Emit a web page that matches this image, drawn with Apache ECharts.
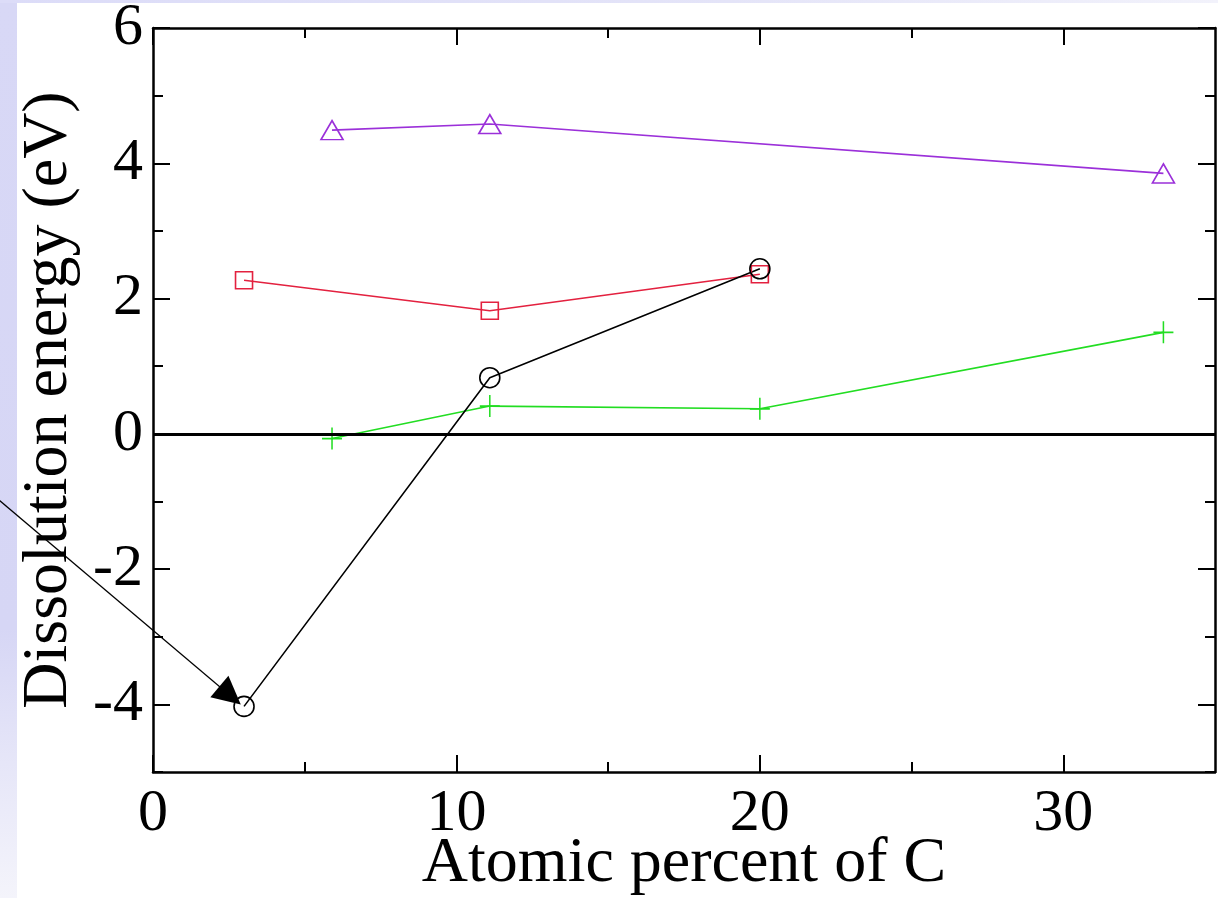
<!DOCTYPE html>
<html>
<head>
<meta charset="utf-8">
<script src="https://cdn.jsdelivr.net/npm/echarts@6/dist/echarts.min.js"></script>
<style>
  html, body { margin: 0; padding: 0; background: #fff; }
  #wrap { position: relative; width: 1218px; height: 898px; background: #fff; }
  #strip { position: absolute; left: 0; top: 0; width: 17px; height: 898px;
    background: linear-gradient(to bottom, #d8d8f6 0%, #d6d6f5 70%, #e6e6f8 85%, #f4f4fb 100%); }
  #topband { position: absolute; left: 0; top: 0; width: 1218px; height: 3px;
    background: linear-gradient(to right, #dcdcf8 0%, #e4e4f8 60%, #f2f2fb 100%); }
  #chart { position: absolute; left: 0; top: 0; width: 1218px; height: 898px; }
</style>
</head>
<body>
<div id="wrap">
  <div id="strip"></div>
  <div id="topband"></div>
  <div id="chart"></div>
</div>
<script>
  /* ===== data ===== */
  const xTicksMajor = [0, 10, 20, 30];
  const xTicksMinor = [5, 15, 25];
  const yTicksMajor = [-4, -2, 0, 2, 4, 6];
  const yTicksMinor = [-5, -3, -1, 1, 3, 5];

  const violetX = [5.9, 11.1, 33.3];
  const violetY = [4.49, 4.58, 3.85];

  const redX = [3.0, 11.1, 20.0];
  const redY = [2.27, 1.82, 2.36];

  const greenX = [5.9, 11.1, 20.0, 33.3];
  const greenY = [-0.07, 0.41, 0.37, 1.50];

  const blackX = [3.0, 11.1, 20.0];
  const blackY = [-4.03, 0.83, 2.44];

  // annotation arrow (starts outside the plot, points at the lowest circle)
  const arrowFrom = [-5.1, -0.97];
  const arrowTo = [2.54, -3.87];

  const FONT = "'Liberation Serif', 'DejaVu Serif', serif";
  const pairs = (xs, ys) => xs.map((x, i) => [x, ys[i]]);

  /* ===== axes: major / minor ticks on all four sides ===== */
  function xAxis(position, ticks, len, withLabel, withLine) {
    return {
      type: "value", position, min: 0, max: 35,
      axisLine: { show: withLine, onZero: false, lineStyle: { color: "#000", width: 2.5 } },
      axisTick: { show: true, inside: true, length: len, customValues: ticks,
        lineStyle: { color: "#000", width: 2 } },
      axisLabel: { show: withLabel, customValues: ticks, margin: 12,
        fontFamily: FONT, fontSize: 60, color: "#000" },
      splitLine: { show: false },
      name: withLabel ? "Atomic percent of C" : "",
      nameLocation: "middle", nameGap: 60, nameMoveOverlap: false,
      nameTextStyle: { fontFamily: FONT, fontSize: 64, color: "#000" },
    };
  }
  function yAxis(position, ticks, len, withLabel, withLine) {
    return {
      type: "value", position, min: -5, max: 6,
      axisLine: { show: withLine, onZero: false, lineStyle: { color: "#000", width: 2.5 } },
      axisTick: { show: true, inside: true, length: len, customValues: ticks,
        lineStyle: { color: "#000", width: 2 } },
      axisLabel: { show: withLabel, customValues: ticks, margin: 10,
        fontFamily: FONT, fontSize: 60, color: "#000" },
      splitLine: { show: false },
      name: withLabel ? "Dissolution energy (eV)" : "",
      nameLocation: "middle", nameGap: 72, nameRotate: 90,
      nameTextStyle: { fontFamily: FONT, fontSize: 64, color: "#000" },
    };
  }

  function dataSeries(name, xs, ys, color, symbol, size) {
    return {
      name, type: "line", data: pairs(xs, ys),
      xAxisIndex: 0, yAxisIndex: 0,
      symbol, symbolSize: size, showSymbol: true,
      lineStyle: { color, width: 1.6 },
      itemStyle: { color: "rgba(0,0,0,0)", borderColor: color, borderWidth: 1.6 },
      emphasis: { disabled: true },
      animation: false,
    };
  }

  const chart = echarts.init(document.getElementById("chart"), null, { renderer: "canvas" });

  chart.setOption({
    backgroundColor: "transparent",
    animation: false,
    grid: { left: 153, top: 28, right: 3, bottom: 126, containLabel: false, outerBoundsMode: "none" },
    xAxis: [
      xAxis("bottom", xTicksMajor, 17, true, true),
      xAxis("bottom", xTicksMinor, 10, false, false),
      xAxis("top", xTicksMajor, 17, false, true),
      xAxis("top", xTicksMinor, 10, false, false),
    ],
    yAxis: [
      yAxis("left", yTicksMajor, 17, true, true),
      yAxis("left", yTicksMinor, 10, false, false),
      yAxis("right", yTicksMajor, 17, false, true),
      yAxis("right", yTicksMinor, 10, false, false),
    ],
    series: [
      {
        // zero line
        type: "line", data: [], xAxisIndex: 0, yAxisIndex: 0,
        markLine: {
          silent: true, symbol: "none", animation: false,
          label: { show: false },
          lineStyle: { color: "#000", width: 3, type: "solid" },
          data: [{ yAxis: 0 }],
        },
      },
      dataSeries("violet", violetX, violetY, "#9b30d9", "triangle", [22, 19]),
      dataSeries("red", redX, redY, "#e3213f", "rect", 17),
      dataSeries("green", greenX, greenY, "#22dd22", "path://M0,10 L20,10 M10,0 L10,20", [20, 22]),
      dataSeries("black", blackX, blackY, "#000000", "circle", 20),
      {
        type: "lines", coordinateSystem: "cartesian2d",
        xAxisIndex: 0, yAxisIndex: 0, clip: false, silent: true,
        symbol: ["none", "triangle"], symbolSize: 28,
        lineStyle: { color: "#000", width: 1.2, opacity: 1 },
        itemStyle: { color: "#000" },
        data: [{ coords: [arrowFrom, arrowTo] }],
        animation: false,
      },
    ],
  });
</script>
</body>
</html>
